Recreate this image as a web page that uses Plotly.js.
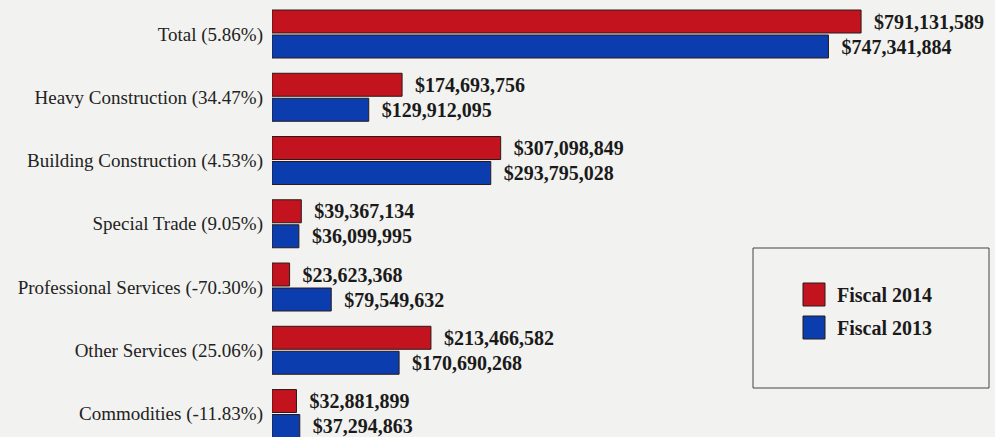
<!DOCTYPE html>
<html>
<head>
<meta charset="utf-8">
<script src="https://cdn.plot.ly/plotly-3.0.1.min.js"></script>
<style>html,body{margin:0;padding:0;background:#f2f2f0;}#chart{width:995px;height:437px;}</style>
</head>
<body>
<div id="chart"></div>
<script>
const categories = ["Total (5.86%)", "Heavy Construction (34.47%)", "Building Construction (4.53%)", "Special Trade (9.05%)", "Professional Services (-70.30%)", "Other Services (25.06%)", "Commodities (-11.83%)"];
const fiscal2014 = [791131589, 174693756, 307098849, 39367134, 23623368, 213466582, 32881899];
const fiscal2013 = [747341884, 129912095, 293795028, 36099995, 79549632, 170690268, 37294863];
const seriesNames = ["Fiscal 2014", "Fiscal 2013"];
const colors = ["#c3131f", "#0b3daf"];

const serif = "Liberation Serif, Times New Roman, serif";
function makeTrace(vals, i) {
  return {
    type: "bar", orientation: "h", name: seriesNames[i],
    y: categories, x: vals,
    marker: {color: colors[i], line: {color: "#2a1a1a", width: 1}},
    texttemplate: "\u00a0\u00a0$%{x:,.0f}", textposition: "outside",
    textfont: {family: serif, size: 20, color: "#1a1a1a", weight: "bold"},
    constraintext: "none", cliponaxis: false, hoverinfo: "skip", showlegend: false
  };
}
const traces = [makeTrace(fiscal2014, 0), makeTrace(fiscal2013, 1)];

// legend box drawn in paper coords (plot area: x 272..995, y 2..437)
const L = 272, W = 723, T = 2, H = 435;
const px = v => (v - L) / W;
const py = v => 1 - (v - T) / H;
const shapes = [
  {type: "rect", xref: "paper", yref: "paper", x0: px(753), x1: px(989), y0: py(388), y1: py(248), line: {color: "#444", width: 1}, fillcolor: "rgba(0,0,0,0)"}
];
const annotations = [];
const sqY = [283, 316];
seriesNames.forEach((n, i) => {
  shapes.push({type: "rect", xref: "paper", yref: "paper", x0: px(803), x1: px(825), y0: py(sqY[i] + 23), y1: py(sqY[i]), fillcolor: colors[i], line: {color: "#2a1a1a", width: 1}});
  annotations.push({xref: "paper", yref: "paper", x: px(835), y: py(sqY[i] + 12), xanchor: "left", yanchor: "middle", showarrow: false, text: "<b>" + n + "</b>", font: {family: serif, size: 20, color: "#1a1a1a"}});
});

const layout = {
  width: 995, height: 437,
  margin: {l: L, r: 0, t: T, b: 0, pad: 0},
  paper_bgcolor: "#f2f2f0", plot_bgcolor: "#f2f2f0",
  barmode: "group", bargap: 0.21, bargroupgap: 0.08,
  showlegend: false,
  xaxis: {range: [0, 971000000], visible: false, showgrid: false, zeroline: false, fixedrange: true},
  yaxis: {type: "category", range: [6.371, -0.506], showgrid: false, zeroline: false, showline: false, ticks: "", ticklabelstandoff: 8,
          tickfont: {family: serif, size: 19, color: "#222"}, fixedrange: true},
  shapes: shapes, annotations: annotations
};
Plotly.newPlot("chart", traces, layout, {displayModeBar: false, staticPlot: true});
</script>
</body>
</html>
